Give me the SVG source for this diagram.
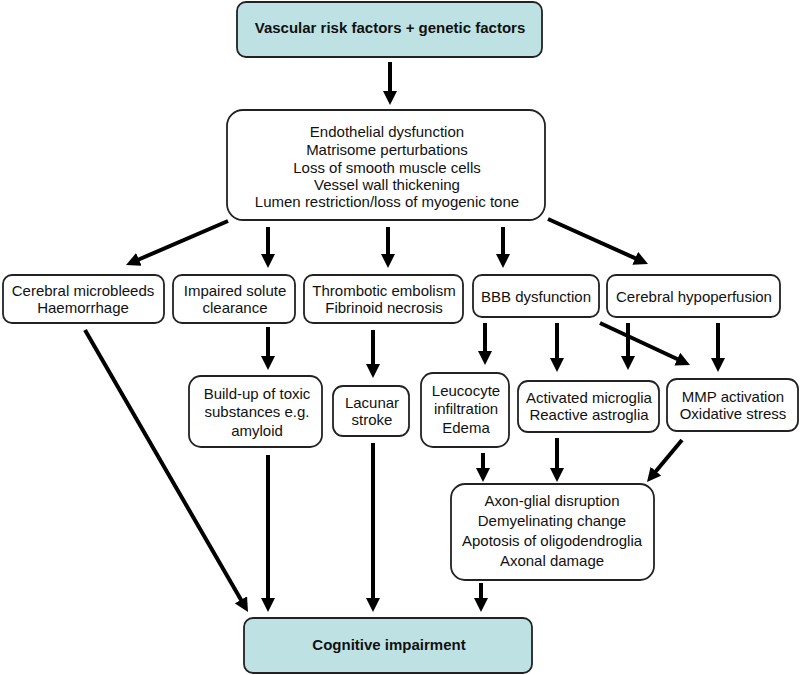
<svg xmlns="http://www.w3.org/2000/svg" width="800" height="675" viewBox="0 0 800 675">
<defs>
<marker id="ah" markerWidth="14" markerHeight="14" refX="4" refY="7" orient="auto" markerUnits="userSpaceOnUse"><path d="M0,0 L14,7 L0,14 z" fill="#000"/></marker>
<style>
.box{fill:#fff;stroke:#222;stroke-width:1.8}
.key{fill:#bee2e3;stroke:#222;stroke-width:1.8}
text{font-family:"Liberation Sans",Arial,sans-serif;font-size:15px;fill:#111;text-anchor:middle}
.b{font-weight:bold}
.c line{stroke:#000;stroke-width:4;marker-end:url(#ah)}
</style>
</defs>
<rect width="800" height="675" fill="#fff"/>
<g id="risk"><rect class="key" x="237" y="2" width="305" height="55" rx="9"/><text class="b" x="390" y="33">Vascular risk factors + genetic factors</text></g>
<g id="vessel"><rect class="box" x="227" y="110" width="318" height="110" rx="16"/>
<text x="387" y="137">Endothelial dysfunction</text><text x="387" y="155">Matrisome perturbations</text><text x="387" y="173">Loss of smooth muscle cells</text><text x="387" y="190">Vessel wall thickening</text><text x="387" y="207">Lumen restriction/loss of myogenic tone</text></g>
<g id="microbleeds"><rect class="box" x="3" y="275" width="161" height="48" rx="9"/><text x="83" y="296">Cerebral microbleeds</text><text x="83" y="313">Haemorrhage</text></g>
<g id="solute"><rect class="box" x="173" y="275" width="122" height="48" rx="9"/><text x="235" y="296">Impaired solute</text><text x="235" y="313">clearance</text></g>
<g id="thrombotic"><rect class="box" x="304" y="275" width="159" height="48" rx="9"/><text x="384" y="296">Thrombotic embolism</text><text x="384" y="313">Fibrinoid necrosis</text></g>
<g id="bbb"><rect class="box" x="473" y="275" width="126" height="42" rx="9"/><text x="536" y="302">BBB dysfunction</text></g>
<g id="hypoperfusion"><rect class="box" x="607" y="275" width="173" height="42" rx="9"/><text x="694" y="302">Cerebral hypoperfusion</text></g>
<g id="buildup"><rect class="box" x="189" y="376" width="133" height="71" rx="12"/><text x="257" y="399">Build-up of toxic</text><text x="257" y="417">substances e.g.</text><text x="257" y="436">amyloid</text></g>
<g id="lacunar"><rect class="box" x="333" y="386" width="76" height="50" rx="10"/><text x="372" y="408">Lacunar</text><text x="372" y="425">stroke</text></g>
<g id="leucocyte"><rect class="box" x="421" y="373" width="88" height="74" rx="12"/><text x="466" y="396">Leucocyte</text><text x="466" y="414">infiltration</text><text x="466" y="433">Edema</text></g>
<g id="microglia"><rect class="box" x="518" y="381" width="141" height="51" rx="10"/><text x="589" y="403">Activated microglia</text><text x="589" y="420">Reactive astroglia</text></g>
<g id="mmp"><rect class="box" x="667" y="379" width="131" height="52" rx="10"/><text x="733" y="402">MMP activation</text><text x="733" y="419">Oxidative stress</text></g>
<g id="axon"><rect class="box" x="451" y="484" width="203" height="96" rx="14"/><text x="552" y="506">Axon-glial disruption</text><text x="552" y="526">Demyelinating change</text><text x="552" y="546">Apotosis of oligodendroglia</text><text x="552" y="566">Axonal damage</text></g>
<g id="cognitive"><rect class="key" x="244" y="618" width="288" height="55" rx="9"/><text class="b" x="389" y="650">Cognitive impairment</text></g>
<g id="connectors" class="c">
<line x1="390" y1="62" x2="390" y2="95"/>
<line x1="228" y1="221" x2="135.2" y2="261"/>
<line x1="268" y1="227" x2="268" y2="258"/>
<line x1="388" y1="227" x2="388" y2="258"/>
<line x1="503" y1="227" x2="503" y2="258"/>
<line x1="548" y1="219" x2="638.9" y2="259.9"/>
<line x1="268" y1="327" x2="268" y2="360"/>
<line x1="373" y1="330" x2="373" y2="368"/>
<line x1="485" y1="323" x2="485" y2="355"/>
<line x1="557" y1="323" x2="557" y2="362"/>
<line x1="628" y1="323" x2="628" y2="360"/>
<line x1="600" y1="323" x2="680.9" y2="360.8"/>
<line x1="718" y1="323" x2="718" y2="362"/>
<line x1="483" y1="453" x2="483" y2="472"/>
<line x1="557" y1="438" x2="557" y2="472"/>
<line x1="682" y1="440" x2="653.4" y2="474.3"/>
<line x1="85" y1="330" x2="243" y2="603.3"/>
<line x1="268" y1="455" x2="268" y2="602"/>
<line x1="373" y1="443" x2="373" y2="602"/>
<line x1="481" y1="583" x2="481" y2="602"/>
</g>
</svg>
